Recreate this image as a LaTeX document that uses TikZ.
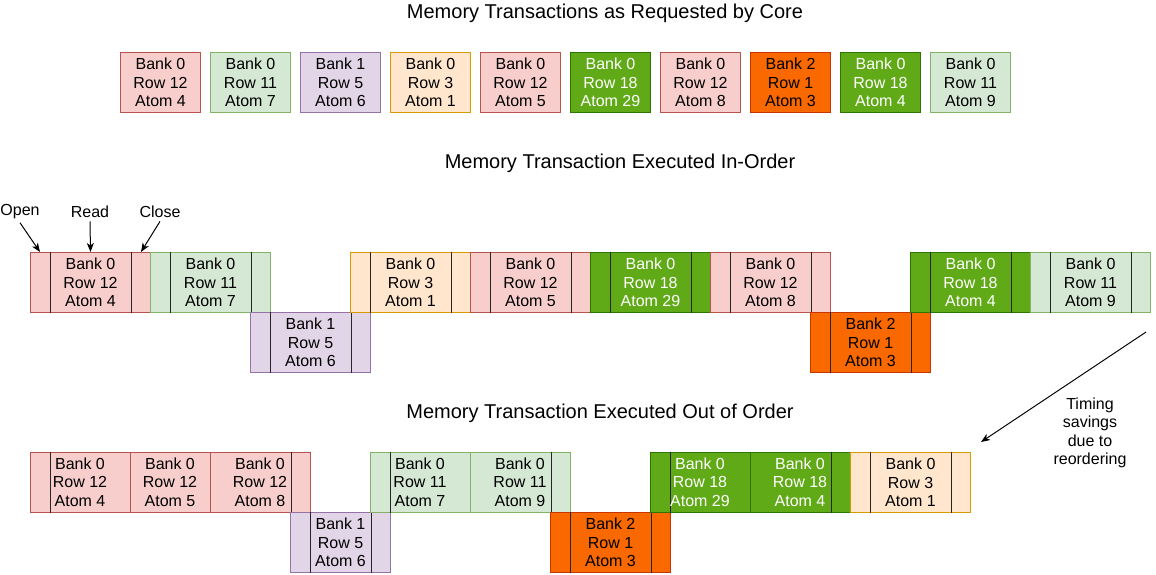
\documentclass[tikz,border=0pt]{standalone}
\usepackage{fontspec}
\setmainfont{Liberation Sans}
\usetikzlibrary{arrows.meta}
\definecolor{rfill}{HTML}{F8CECC}\definecolor{rstroke}{HTML}{B85450}
\definecolor{gfill}{HTML}{D5E8D4}\definecolor{gstroke}{HTML}{82B366}
\definecolor{pfill}{HTML}{E1D5E7}\definecolor{pstroke}{HTML}{9673A6}
\definecolor{ofill}{HTML}{FFE6CC}\definecolor{ostroke}{HTML}{D79B00}
\definecolor{dgfill}{HTML}{60A917}\definecolor{dgstroke}{HTML}{2D7600}
\definecolor{orfill}{HTML}{FA6800}\definecolor{orstroke}{HTML}{C73500}
\newcommand\oc[1]{\draw[divline] ([xshift=20pt]#1.north west) -- ([xshift=20pt]#1.south west) ([xshift=-20pt]#1.north east) -- ([xshift=-20pt]#1.south east);}
\begin{document}
\begin{tikzpicture}[x=1pt,y=-1pt,line width=1pt,
  box/.style={rectangle,inner sep=0pt,minimum height=60pt,anchor=north west,align=center,font=\fontsize{16}{18.5}\selectfont},
  lbl/.style={inner sep=0pt,align=center,font=\fontsize{16}{18.5}\selectfont},
  ttl/.style={inner sep=0pt,font=\fontsize{20}{24}\selectfont},
  rbox/.style={box,draw=rstroke,fill=rfill},
  gbox/.style={box,draw=gstroke,fill=gfill},
  pbox/.style={box,draw=pstroke,fill=pfill},
  obox/.style={box,draw=ostroke,fill=ofill},
  dgbox/.style={box,draw=dgstroke,fill=dgfill,text=white},
  orbox/.style={box,draw=orstroke,fill=orfill},
  divline/.style={draw=black!85,line width=1pt},
  arr/.style={-{Stealth[length=9pt,width=7pt,inset=2.5pt]},line width=1pt,draw=black}
]
\useasboundingbox (0,0) rectangle (1156,574);

% titles
\node[ttl] (t1) at (605,13) {Memory Transactions as Requested by Core};
\node[ttl] (t2) at (620,163) {Memory Transaction Executed In-Order};
\node[ttl] (t3) at (600,413) {Memory Transaction Executed Out of Order};

% requested order
\node[rbox,minimum width=80pt]  (q1)  at (120,52) {Bank 0\\Row 12\\Atom 4};
\node[gbox,minimum width=80pt]  (q2)  at (210,52) {Bank 0\\Row 11\\Atom 7};
\node[pbox,minimum width=80pt]  (q3)  at (300,52) {Bank 1\\Row 5\\Atom 6};
\node[obox,minimum width=80pt]  (q4)  at (390,52) {Bank 0\\Row 3\\Atom 1};
\node[rbox,minimum width=80pt]  (q5)  at (480,52) {Bank 0\\Row 12\\Atom 5};
\node[dgbox,minimum width=80pt] (q6)  at (570,52) {Bank 0\\Row 18\\Atom 29};
\node[rbox,minimum width=80pt]  (q7)  at (660,52) {Bank 0\\Row 12\\Atom 8};
\node[orbox,minimum width=80pt] (q8)  at (750,52) {Bank 2\\Row 1\\Atom 3};
\node[dgbox,minimum width=80pt] (q9)  at (840,52) {Bank 0\\Row 18\\Atom 4};
\node[gbox,minimum width=80pt]  (q10) at (930,52) {Bank 0\\Row 11\\Atom 9};

% in-order execution
\node[rbox,minimum width=120pt]  (i1)  at (30,252)  {Bank 0\\Row 12\\Atom 4}; \oc{i1}
\node[gbox,minimum width=120pt]  (i2)  at (150,252) {Bank 0\\Row 11\\Atom 7}; \oc{i2}
\node[pbox,minimum width=120pt]  (i3)  at (250,312) {Bank 1\\Row 5\\Atom 6}; \oc{i3}
\node[obox,minimum width=120pt]  (i4)  at (350,252) {Bank 0\\Row 3\\Atom 1}; \oc{i4}
\node[rbox,minimum width=120pt]  (i5)  at (470,252) {Bank 0\\Row 12\\Atom 5}; \oc{i5}
\node[dgbox,minimum width=120pt] (i6)  at (590,252) {Bank 0\\Row 18\\Atom 29}; \oc{i6}
\node[rbox,minimum width=120pt]  (i7)  at (710,252) {Bank 0\\Row 12\\Atom 8}; \oc{i7}
\node[orbox,minimum width=120pt] (i8)  at (810,312) {Bank 2\\Row 1\\Atom 3}; \oc{i8}
\node[dgbox,minimum width=120pt] (i9)  at (910,252) {Bank 0\\Row 18\\Atom 4}; \oc{i9}
\node[gbox,minimum width=120pt]  (i10) at (1030,252) {Bank 0\\Row 11\\Atom 9}; \oc{i10}

% labels with arrows
\node[lbl,inner sep=3pt] (lopen)  at (20,212)  {Open};
\node[lbl,inner sep=3pt] (lread)  at (90,212)  {Read};
\node[lbl,inner sep=3pt] (lclose) at (160,212) {Close};
\draw[arr] (lopen.south) -- ([xshift=10pt]i1.north west);
\draw[arr] (lread.south) -- (i1.north);
\draw[arr] (lclose.south) -- ([xshift=-10pt]i1.north east);

% out-of-order execution
\node[rbox,minimum width=280pt] (o1) at (30,452) {}; \oc{o1}
\draw[draw=rstroke] ([xshift=100pt]o1.north west) -- ([xshift=100pt]o1.south west)
                    ([xshift=180pt]o1.north west) -- ([xshift=180pt]o1.south west);
\node[lbl] (o1a) at (80,482)  {Bank 0\\Row 12\\Atom 4};
\node[lbl] (o1b) at (170,482) {Bank 0\\Row 12\\Atom 5};
\node[lbl] (o1c) at (260,482) {Bank 0\\Row 12\\Atom 8};

\node[pbox,minimum width=100pt] (o2) at (290,512) {Bank 1\\Row 5\\Atom 6}; \oc{o2}

\node[gbox,minimum width=200pt] (o3) at (370,452) {}; \oc{o3}
\draw[draw=gstroke] ([xshift=100pt]o3.north west) -- ([xshift=100pt]o3.south west);
\node[lbl] (o3a) at (420,482) {Bank 0\\Row 11\\Atom 7};
\node[lbl] (o3b) at (520,482) {Bank 0\\Row 11\\Atom 9};

\node[orbox,minimum width=120pt] (o4) at (550,512) {Bank 2\\Row 1\\Atom 3}; \oc{o4}

\node[dgbox,minimum width=200pt] (o5) at (650,452) {}; \oc{o5}
\draw[draw=dgstroke] ([xshift=100pt]o5.north west) -- ([xshift=100pt]o5.south west);
\node[lbl,text=white] (o5a) at (700,482) {Bank 0\\Row 18\\Atom 29};
\node[lbl,text=white] (o5b) at (800,482) {Bank 0\\Row 18\\Atom 4};

\node[obox,minimum width=120pt] (o6) at (850,452) {Bank 0\\Row 3\\Atom 1}; \oc{o6}

% timing savings
\node[lbl] (tsav) at (1090,433) {Timing\\savings\\due to\\reordering};
\coordinate (tsA) at (1146,332);
\coordinate (tsB) at (981,442);
\draw[arr] (tsA) -- (tsB);
\end{tikzpicture}
\end{document}
